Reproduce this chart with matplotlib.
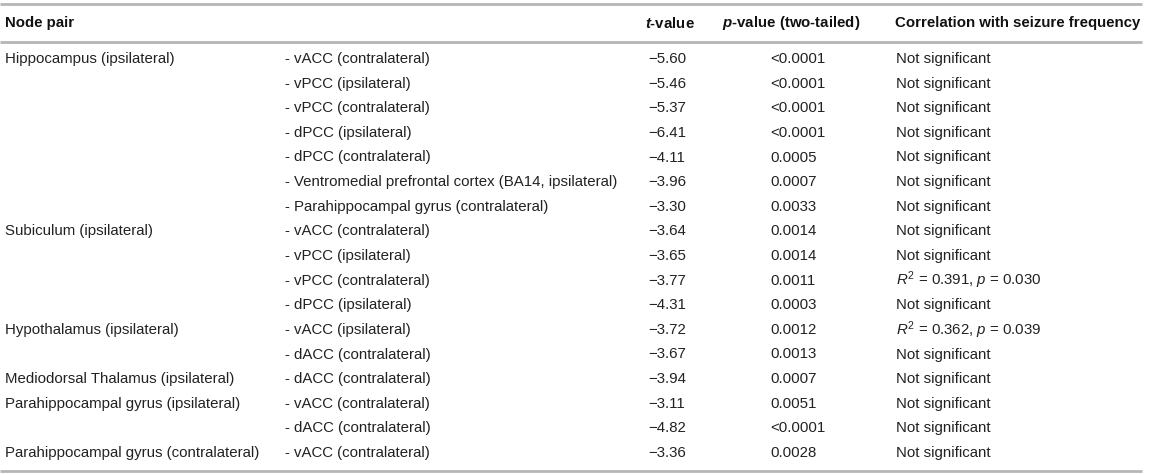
import matplotlib
matplotlib.use("Agg")
import matplotlib.pyplot as plt

plt.rcParams["font.family"] = ["Liberation Sans", "DejaVu Sans"]
plt.rcParams["mathtext.fontset"] = "custom"
plt.rcParams["mathtext.rm"] = "Liberation Sans"
plt.rcParams["mathtext.it"] = "Liberation Sans:italic"
plt.rcParams["mathtext.bf"] = "Liberation Sans:bold"
plt.rcParams["mathtext.bfit"] = "Liberation Sans:italic:bold"

# table content
headers = ["Node pair", r"$\mathbfit{t}$-value",
           r"$\mathbfit{p}$-value (two-tailed)",
           "Correlation with seizure frequency"]
nodes = ["Hippocampus (ipsilateral)", "", "", "", "", "", "",
         "Subiculum (ipsilateral)", "", "", "",
         "Hypothalamus (ipsilateral)", "",
         "Mediodorsal Thalamus (ipsilateral)",
         "Parahippocampal gyrus (ipsilateral)", "",
         "Parahippocampal gyrus (contralateral)"]
partners = ["vACC (contralateral)", "vPCC (ipsilateral)", "vPCC (contralateral)",
            "dPCC (ipsilateral)", "dPCC (contralateral)",
            "Ventromedial prefrontal cortex (BA14, ipsilateral)",
            "Parahippocampal gyrus (contralateral)",
            "vACC (contralateral)", "vPCC (ipsilateral)", "vPCC (contralateral)",
            "dPCC (ipsilateral)",
            "vACC (ipsilateral)", "dACC (contralateral)",
            "dACC (contralateral)",
            "vACC (contralateral)", "dACC (contralateral)",
            "vACC (contralateral)"]
t_values = [-5.60, -5.46, -5.37, -6.41, -4.11, -3.96, -3.30,
            -3.64, -3.65, -3.77, -4.31,
            -3.72, -3.67, -3.94, -3.11, -4.82, -3.36]
p_values = ["<0.0001", "<0.0001", "<0.0001", "<0.0001", "0.0005", "0.0007", "0.0033",
            "0.0014", "0.0014", "0.0011", "0.0003",
            "0.0012", "0.0013", "0.0007", "0.0051", "<0.0001", "0.0028"]
correlations = ["Not significant"] * 17
correlations[9] = r"$R^2$ = 0.391, $p$ = 0.030"
correlations[11] = r"$R^2$ = 0.362, $p$ = 0.039"

W, H = 1155, 475
fig = plt.figure(figsize=(W / 100, H / 100), dpi=100)
ax = fig.add_axes([0, 0, 1, 1])
ax.set_xlim(0, W)
ax.set_ylim(H, 0)
ax.axis("off")

col_x = [5, 285, 648, 770, 896]
head_x = [5, 645, 722, 895]
row0, row_h = 59, 24.625
head_y = 23
txt_color = "#222222"
rule_color = "#b5b5b5"
fs = 10.8

for x, h in zip(head_x, headers):
    ax.text(x, head_y, h, fontsize=fs, fontweight="bold", color="#111111",
            ha="left", va="center")

for i in range(len(partners)):
    y = row0 + i * row_h
    ax.text(col_x[0], y, nodes[i], fontsize=fs, color=txt_color, va="center")
    ax.text(col_x[1], y, "- " + partners[i], fontsize=fs, color=txt_color, va="center")
    ax.text(col_x[2], y, f"{t_values[i]:.2f}".replace("-", "\u2212"),
            fontsize=fs, color=txt_color, va="center")
    ax.text(col_x[3], y, p_values[i], fontsize=fs, color=txt_color, va="center")
    ax.text(col_x[4], y, correlations[i], fontsize=fs, color=txt_color, va="center")

# horizontal rules
for y in [4, 42, 471]:
    ax.plot([0, 1142], [y, y], color=rule_color, lw=2, solid_capstyle="butt")

fig.savefig("out.png", dpi=100)
